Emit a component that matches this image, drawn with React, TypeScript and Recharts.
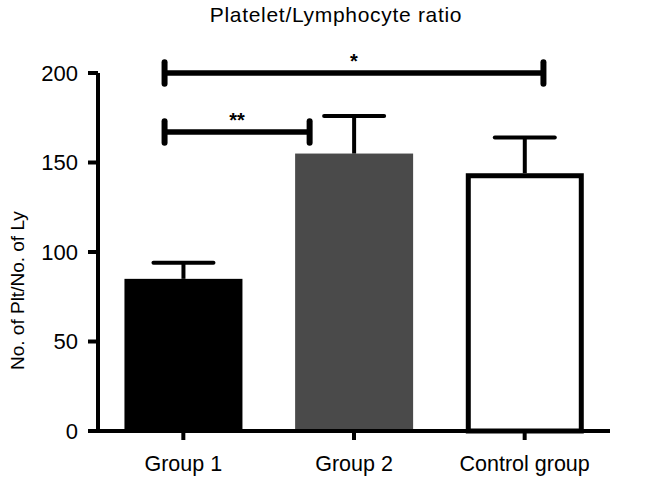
import React from 'react';
import {
  BarChart,
  Bar,
  Cell,
  XAxis,
  YAxis,
  ReferenceLine,
  ReferenceDot,
} from 'recharts';

const groups = ['Group 1', 'Group 2', 'Control group'];
const means = [85, 155, 144];
const sems = [9, 21, 20];
const fills = ['#000000', '#4a4a4a', '#ffffff'];
const yTicks = [0, 50, 100, 150, 200];

// significance brackets: [start, end] on a 0..3 category position scale, y value, label
const brackets = [
  { from: 0.39, to: 1.24, y: 167, text: '**' },
  { from: 0.39, to: 2.61, y: 200, text: '*' },
];

const data = groups.map((name, i) => ({ name, pos: i + 0.5, mean: means[i], sem: sems[i] }));

const font = '"Liberation Sans", Arial, Helvetica, sans-serif';

function BarWithError(props: any) {
  const { x, y, width, height, payload, index } = props;
  const perUnit = height / payload.mean;
  const errTop = y - payload.sem * perUnit;
  const cx = x + width / 2;
  const outlined = index === 2;
  return (
    <g>
      {outlined ? (
        <rect x={x + 2.5} y={y + 2.5} width={width - 5} height={height - 2.5}
          fill="#fff" stroke="#000" strokeWidth={5} />
      ) : (
        <rect x={x} y={y} width={width} height={height} fill={fills[index]} />
      )}
      <line x1={cx} x2={cx} y1={y} y2={errTop} stroke="#000" strokeWidth={4} />
      <line x1={cx - 30} x2={cx + 30} y1={errTop} y2={errTop} stroke="#000" strokeWidth={4} strokeLinecap="round" />
    </g>
  );
}

export default function App() {
  return (
    <div style={{ position: 'absolute', left: 0, top: 0, width: 646, height: 485, background: '#fff', fontFamily: font }}>
      <div style={{ position: 'absolute', top: 3, left: 336 - 200, width: 400, textAlign: 'center', fontSize: 21, letterSpacing: 0.7, color: '#000' }}>
        Platelet/Lymphocyte ratio
      </div>
      <BarChart width={646} height={485} data={data}
        margin={{ top: 73, right: 36, bottom: 0, left: 0 }}
        barCategoryGap="15.5%">
        <XAxis dataKey="name" height={54} axisLine={{ stroke: '#000', strokeWidth: 4 }}
          tickLine={{ stroke: '#000', strokeWidth: 4 }} tickSize={9}
          tick={{ fill: '#000', fontSize: 21.5, fontFamily: font, dy: 14 }} />
        <XAxis xAxisId="pos" dataKey="pos" type="number" domain={[0, 3]} allowDataOverflow hide />
        <YAxis domain={[0, 200]} ticks={yTicks} width={98} interval={0}
          axisLine={{ stroke: '#000', strokeWidth: 4 }}
          tickLine={{ stroke: '#000', strokeWidth: 4 }} tickSize={10}
          tick={{ fill: '#000', fontSize: 22, fontFamily: font, dx: -8 }}
          label={{ value: 'No. of Plt/No. of Ly', angle: -90, position: 'insideLeft', dx: 12, dy: 118,
            style: { fill: '#000', fontSize: 19, fontFamily: font } }} />
        <Bar dataKey="mean" isAnimationActive={false} shape={<BarWithError />}>
          {data.map((d, i) => <Cell key={d.name} fill={fills[i]} />)}
        </Bar>
        {brackets.map((b) => (
          <ReferenceLine key={b.text} xAxisId="pos" ifOverflow="visible" stroke="#000" strokeWidth={5.5}
            segment={[{ x: b.from, y: b.y }, { x: b.to, y: b.y }]} />
        ))}
        {brackets.flatMap((b) => [b.from, b.to].map((px) => (
          <ReferenceLine key={b.text + px} xAxisId="pos" ifOverflow="visible" stroke="#000" strokeWidth={6}
            strokeLinecap="round"
            segment={[{ x: px, y: b.y - 6 }, { x: px, y: b.y + 6 }]} />
        )))}
        {brackets.map((b) => (
          <ReferenceDot key={'t' + b.text} xAxisId="pos" ifOverflow="visible" x={(b.from + b.to) / 2} y={b.y}
            r={0} fill="none" stroke="none"
            label={{ value: b.text, position: 'top', offset: 5, style: { fill: '#000', fontSize: 20, fontWeight: 'bold', fontFamily: font } }} />
        ))}
      </BarChart>
    </div>
  );
}
